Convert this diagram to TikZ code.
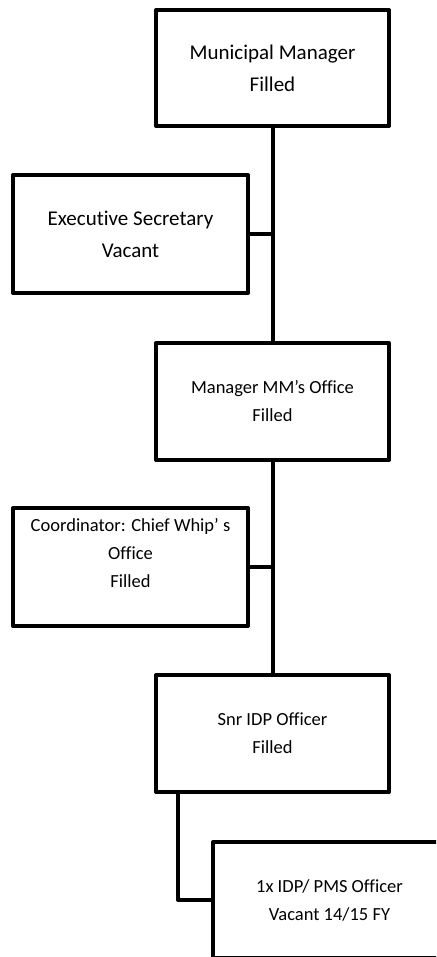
\documentclass[tikz,border=0pt]{standalone}
\usepackage{fontspec}
\setmainfont{Carlito}[Ligatures={NoCommon}]
\begin{document}
\begin{tikzpicture}[x=1pt,y=-1pt,
  box/.style={draw, line width=4pt, line join=round, inner sep=0pt, align=center, fill=white},
  big/.style={font=\fontsize{21}{32}\selectfont},
  small/.style={font=\fontsize{18.5}{28}\selectfont},
  link/.style={line width=4pt, line join=round}]
\useasboundingbox (0,0) rectangle (436,957);
\clip (0,0) rectangle (436,957);
\node[box,big,minimum width=233pt,minimum height=116pt] (b1) at (272.5,68) {Municipal Manager\\Filled};
\node[box,big,minimum width=235pt,minimum height=118pt] (b2) at (130.5,234) {Executive Secretary\\Vacant};
\node[box,small,minimum width=233pt,minimum height=117pt] (b3) at (272.5,401.5) {Manager MM’s Office\\Filled};
\node[box,small,minimum width=235pt,minimum height=118pt] (b4) at (130.5,567) {Coordinator: Chief Whip’ s\\Office\\Filled\\\mbox{}};
\node[box,small,minimum width=233pt,minimum height=117pt] (b5) at (272.5,733.5) {Snr IDP Officer\\Filled};
\node[box,small,minimum width=233pt,minimum height=116pt] (b6) at (329.5,900) {1x IDP/ PMS Officer\\Vacant 14/15 FY};
\draw[link] (b1.south) -- (b3.north);
\draw[link] (b2.east) -- (b2.east -| b1.south);
\draw[link] (b3.south) -- (b5.north);
\draw[link] (b4.east) -- (b4.east -| b3.south);
\draw[link] ([xshift=24pt]b5.south west) |- (b6.west);
\end{tikzpicture}
\end{document}
